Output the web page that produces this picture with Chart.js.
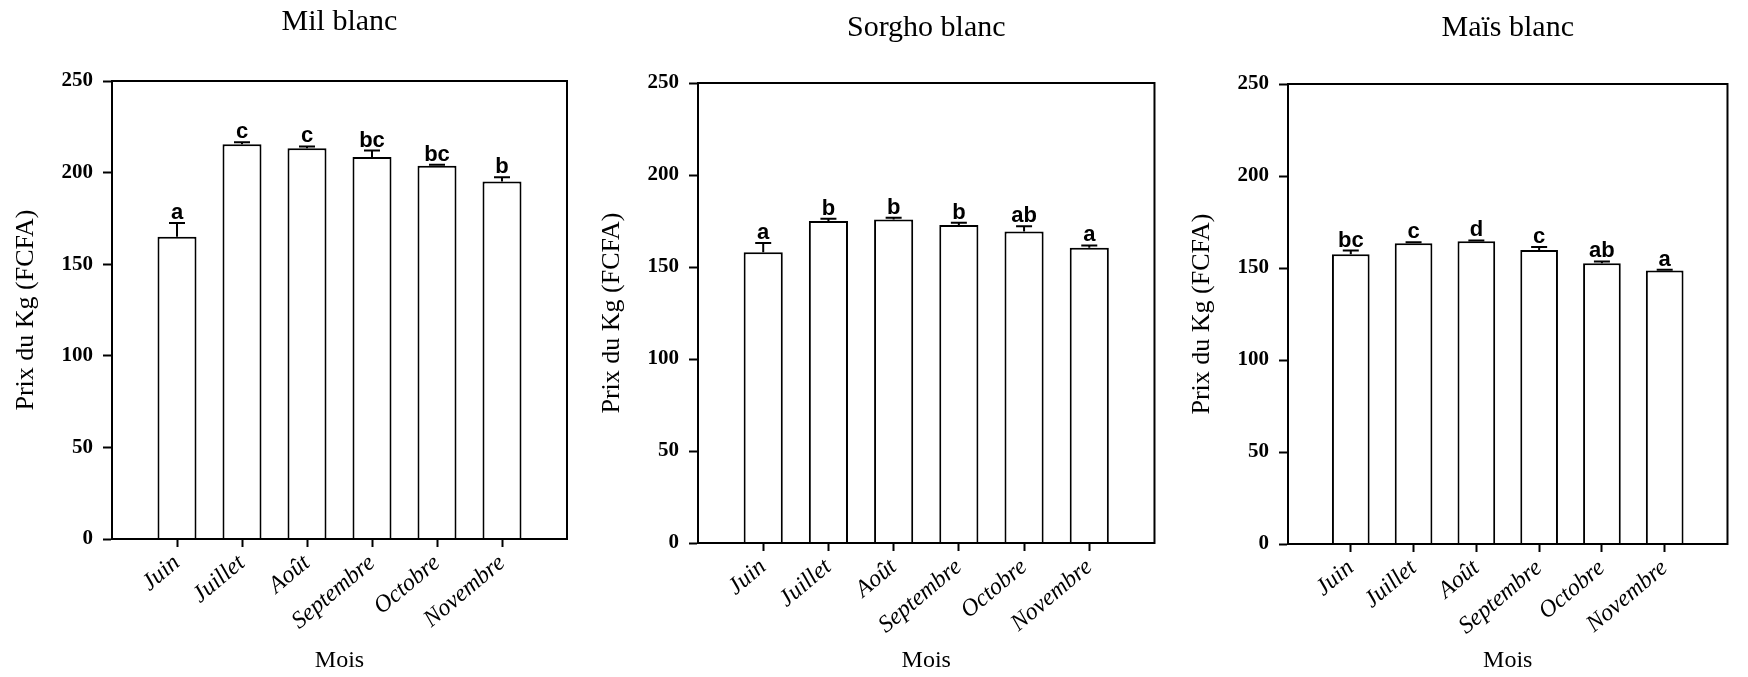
<!DOCTYPE html>
<html>
<head>
<meta charset="utf-8">
<script src="https://cdn.jsdelivr.net/npm/chart.js@4.4.1/dist/chart.umd.min.js"></script>
<style>
  body { margin: 0; background: #fff; }
  canvas.panel { position: absolute; top: 0; }
</style>
</head>
<body>
<canvas id="chartMil" class="panel" style="left:0px" width="590" height="677"></canvas>
<canvas id="chartSorgho" class="panel" style="left:590px" width="585" height="677"></canvas>
<canvas id="chartMais" class="panel" style="left:1175px" width="573" height="677"></canvas>
<script>
const months = ["Juin", "Juillet", "Août", "Septembre", "Octobre", "Novembre"];
const yTicks = [0, 50, 100, 150, 200, 250];

const milValues = [165, 215.5, 213.3, 208.5, 203.8, 195.2];
const milErrors = [7.5, 1, 1, 3.5, 0.5, 2.3];
const milLetters = ["a", "c", "c", "bc", "bc", "b"];

const sorghoValues = [158, 175, 175.8, 172.8, 169.3, 160.5];
const sorghoErrors = [5, 1.2, 1, 1.3, 2.8, 1.2];
const sorghoLetters = ["a", "b", "b", "b", "ab", "a"];

const maisValues = [157.5, 163.5, 164.6, 159.8, 152.6, 148.6];
const maisErrors = [2, 0.5, 0.4, 1.6, 1, 0.4];
const maisLetters = ["bc", "c", "d", "c", "ab", "a"];

Chart.defaults.devicePixelRatio = 1;
Chart.defaults.color = "#000";

// box around the plot area
const framePlugin = {
  id: "frame",
  afterDraw(chart) {
    const { ctx, chartArea: a } = chart;
    ctx.save();
    ctx.strokeStyle = "#000";
    ctx.lineWidth = 2;
    ctx.strokeRect(a.left, a.top, a.right - a.left, a.bottom - a.top);
    ctx.restore();
  }
};

// upper error bar + significance letter above each bar
const errorBarPlugin = {
  id: "errorBars",
  afterDatasetsDraw(chart) {
    const { ctx, scales: { y } } = chart;
    const ds = chart.data.datasets[0];
    const meta = chart.getDatasetMeta(0);
    ctx.save();
    meta.data.forEach((bar, i) => {
      const v = ds.data[i];
      if (v == null) return;
      const top = y.getPixelForValue(v + ds.errors[i]);
      ctx.strokeStyle = "#000";
      ctx.lineWidth = 2;
      ctx.beginPath();
      ctx.moveTo(bar.x, bar.y);
      ctx.lineTo(bar.x, top);
      ctx.moveTo(bar.x - 8, top);
      ctx.lineTo(bar.x + 8, top);
      ctx.stroke();
      ctx.fillStyle = "#000";
      ctx.font = 'bold 22px "Liberation Sans"';
      ctx.textAlign = "center";
      ctx.textBaseline = "alphabetic";
      ctx.fillText(ds.letters[i], bar.x, top - 4);
    });
    ctx.restore();
  }
};

function makePanel(id, title, values, errors, letters, g) {
  const pad = arr => [null, ...arr, null];
  const lastIdx = months.length + 1;
  new Chart(document.getElementById(id), {
    type: "bar",
    data: {
      labels: ["", ...months, ""],
      datasets: [{
        data: pad(values),
        errors: pad(errors),
        letters: pad(letters),
        backgroundColor: "#fff",
        borderColor: "#000",
        borderWidth: 2,
        barPercentage: 0.6,
        categoryPercentage: 1
      }]
    },
    options: {
      responsive: false,
      animation: false,
      events: [],
      layout: { padding: { left: g.padLeft, right: g.padRight, top: 0, bottom: 0 } },
      plugins: {
        legend: { display: false },
        tooltip: { enabled: false },
        title: {
          display: true,
          text: title,
          fullSize: false,
          color: "#000",
          font: { family: "Liberation Serif", size: 30, weight: "normal" },
          padding: { top: g.titleTop, bottom: g.titleBottom }
        }
      },
      scales: {
        x: {
          offset: false,
          afterFit: s => { s.height = g.xHeight; },
          border: { display: true, color: "#000", width: 2 },
          grid: {
            offset: false,
            drawOnChartArea: false,
            drawTicks: true,
            tickLength: 8,
            tickWidth: 2,
            tickColor: c => (c.index === 0 || c.index === lastIdx) ? "rgba(0,0,0,0)" : "#000"
          },
          ticks: {
            autoSkip: false,
            minRotation: 40,
            maxRotation: 40,
            padding: 2,
            color: "#000",
            font: { family: "Liberation Serif", size: 24, style: "italic" }
          },
          title: {
            display: true,
            text: "Mois",
            color: "#000",
            font: { family: "Liberation Serif", size: 24 },
            padding: { top: 0, bottom: 2 }
          }
        },
        y: {
          min: 0,
          max: 250,
          afterFit: s => { s.width = 101; },
          afterBuildTicks: s => { s.ticks = yTicks.map(v => ({ value: v })); },
          border: { display: true, color: "#000", width: 2 },
          grid: { drawOnChartArea: false, drawTicks: true, tickLength: 9, tickWidth: 2, tickColor: "#000" },
          ticks: {
            padding: 10,
            color: "#000",
            font: { family: "Liberation Serif", size: 21, weight: "bold" }
          },
          title: {
            display: true,
            text: "Prix du Kg (FCFA)",
            color: "#000",
            font: { family: "Liberation Serif", size: 26 },
            padding: { top: 0, bottom: 0 }
          }
        }
      }
    },
    plugins: [framePlugin, errorBarPlugin]
  });
}

makePanel("chartMil", "Mil blanc", milValues, milErrors, milLetters,
  { padLeft: 11, padRight: 23, titleTop: 4, titleBottom: 41, xHeight: 138 });
makePanel("chartSorgho", "Sorgho blanc", sorghoValues, sorghoErrors, sorghoLetters,
  { padLeft: 7, padRight: 19, titleTop: 10, titleBottom: 37, xHeight: 134 });
makePanel("chartMais", "Maïs blanc", maisValues, maisErrors, maisLetters,
  { padLeft: 12, padRight: 3, titleTop: 10, titleBottom: 38, xHeight: 133 });
</script>
</body>
</html>
